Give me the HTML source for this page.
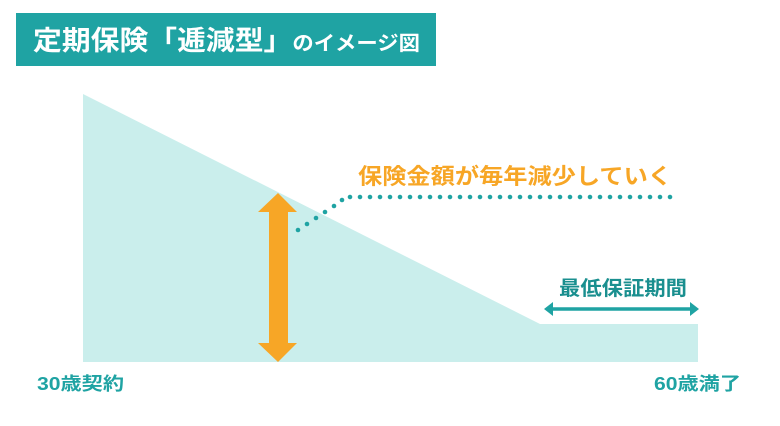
<!DOCTYPE html><html><head><meta charset="utf-8"><style>
body{margin:0;width:780px;height:426px;background:#fff;overflow:hidden;font-family:"Liberation Sans","Noto Sans CJK JP",sans-serif;}
</style></head><body>
<svg width="780" height="426" xmlns="http://www.w3.org/2000/svg" style="position:absolute;left:0;top:0">
<rect x="16" y="13" width="420" height="53" fill="#1fa3a3"/>
<text x="33" y="50" fill="#fff" font-size="27" font-weight="bold" font-family="Liberation Sans,Noto Sans CJK JP,sans-serif" textLength="387" lengthAdjust="spacingAndGlyphs">定期保険「逓減型」<tspan font-size="20">のイメージ図</tspan></text>
<polygon points="83,94 540,324 698,324 698,362 83,362" fill="#caeeec"/>
<polygon points="278,193 297,212 288,212 288,343 297,343 278,362 258,343 269,343 269,212 258,212" fill="#f7a626"/>
<g fill="#1fa3a3">
<circle cx="298" cy="230" r="2.3"/><circle cx="307" cy="224" r="2.3"/><circle cx="316" cy="218" r="2.3"/><circle cx="325" cy="212" r="2.3"/><circle cx="334" cy="206" r="2.3"/><circle cx="342" cy="200" r="2.3"/>
</g>
<line x1="350" y1="197" x2="680" y2="197" stroke="#1fa3a3" stroke-width="4.6" stroke-linecap="round" stroke-dasharray="0 10"/>
<text x="358" y="184" fill="#f7a626" font-size="22" font-weight="bold" font-family="Liberation Sans,Noto Sans CJK JP,sans-serif" textLength="314" lengthAdjust="spacingAndGlyphs">保険金額が毎年減少していく</text>
<text x="559" y="295" fill="#1a8f8f" font-size="20" font-weight="bold" font-family="Liberation Sans,Noto Sans CJK JP,sans-serif" textLength="128" lengthAdjust="spacingAndGlyphs">最低保証期間</text>
<line x1="550" y1="309" x2="693" y2="309" stroke="#1fa3a3" stroke-width="3.5"/>
<polygon points="544,309 553,302 553,316" fill="#1fa3a3"/>
<polygon points="699,309 690,302 690,316" fill="#1fa3a3"/>
<text x="37" y="390" fill="#1fa3a3" font-size="18" font-weight="bold" font-family="Liberation Sans,Noto Sans CJK JP,sans-serif" textLength="87" lengthAdjust="spacingAndGlyphs">30歳契約</text>
<text x="654" y="390" fill="#1fa3a3" font-size="18" font-weight="bold" font-family="Liberation Sans,Noto Sans CJK JP,sans-serif" textLength="87" lengthAdjust="spacingAndGlyphs">60歳満了</text>
</svg>
</body></html>
